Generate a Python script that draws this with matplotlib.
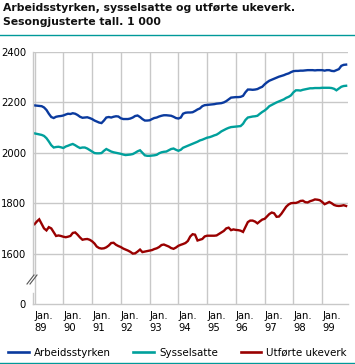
import numpy as np
import pandas as pd
import matplotlib
matplotlib.use("Agg")
import matplotlib.pyplot as plt
from matplotlib.lines import Line2D
import matplotlib.dates as mdates

plt.rcParams['font.family'] = ['DejaVu Sans']

title1 = "Arbeidsstyrken, sysselsatte og utførte ukeverk."
title2 = "Sesongjusterte tall. 1 000"
series_names = ["Arbeidsstyrken", "Sysselsatte", "Utførte ukeverk"]
colors = ["#0a3a9e", "#00a09c", "#990000"]

months = pd.date_range("1989-01-01", periods=131, freq="MS")

arbeidsstyrken = [
    2188, 2187, 2186, 2185, 2180, 2170, 2155, 2142, 2138, 2143, 2145, 2146,
    2148, 2152, 2155, 2154, 2157, 2155, 2150, 2143, 2139, 2140, 2141, 2138,
    2134, 2128, 2124, 2120, 2118, 2128, 2140, 2142, 2140, 2143, 2145, 2144,
    2137, 2134, 2134, 2134, 2136, 2140, 2146, 2148, 2142, 2134, 2128, 2128,
    2129, 2134, 2138, 2140, 2144, 2147, 2149, 2149, 2148, 2147, 2143, 2138,
    2136, 2140, 2155, 2159, 2160, 2160, 2161, 2166, 2172, 2176, 2185, 2189,
    2190, 2191, 2192, 2193, 2195, 2196, 2197, 2200, 2205, 2212, 2219, 2220,
    2221, 2221, 2222, 2226, 2240, 2251, 2251, 2250, 2251, 2253, 2258, 2262,
    2272, 2280, 2286, 2290, 2294, 2298, 2302, 2305, 2308, 2312, 2315, 2320,
    2324, 2325, 2325, 2326, 2326, 2327, 2328, 2328, 2328, 2327, 2328, 2328,
    2328, 2326, 2328, 2328, 2325, 2324, 2328, 2332, 2345, 2349, 2350,
]

sysselsatte = [
    2077, 2075, 2073, 2071, 2067, 2058, 2045, 2030, 2021, 2023, 2024, 2022,
    2019, 2025, 2028, 2032, 2035, 2030, 2024, 2019, 2021, 2021, 2017, 2011,
    2005, 1999, 1998, 1998, 1999, 2008, 2015, 2010, 2005, 2002, 2000, 1998,
    1996, 1993, 1991, 1992, 1993, 1995, 2000, 2006, 2010, 2000, 1990, 1988,
    1988, 1989, 1990, 1992, 1998, 2002, 2004, 2005, 2010, 2015, 2017, 2012,
    2008, 2012, 2020, 2024, 2028, 2032, 2036, 2040, 2044, 2049, 2052, 2056,
    2060, 2062, 2065, 2069, 2072, 2078, 2085, 2090, 2095, 2099, 2102, 2103,
    2104, 2105, 2106, 2115, 2130, 2140, 2142, 2144, 2145, 2147, 2155, 2162,
    2168, 2176, 2185, 2190, 2195, 2200, 2204, 2208, 2212, 2218, 2222, 2228,
    2240, 2248, 2248, 2247, 2250, 2252, 2254, 2256, 2256, 2257, 2257, 2257,
    2258, 2258, 2258, 2258, 2257, 2254, 2248, 2255, 2262, 2265, 2266,
]

utforte_ukeverk = [
    1717, 1728, 1736, 1718, 1700, 1692, 1705, 1700, 1685, 1670, 1672, 1670,
    1667, 1665, 1667, 1670, 1682, 1684, 1675, 1664, 1655, 1657, 1658, 1655,
    1649, 1640, 1628, 1622, 1620, 1621, 1625, 1632, 1642, 1643, 1635, 1630,
    1626, 1620, 1616, 1612, 1607, 1600, 1601, 1608, 1616, 1606, 1608, 1610,
    1612, 1614, 1618, 1621, 1626, 1634, 1636, 1632, 1628, 1622, 1619, 1624,
    1631, 1635, 1638, 1642, 1650, 1668, 1677, 1675, 1652, 1655, 1658, 1668,
    1671, 1671, 1671, 1671, 1672, 1678, 1684, 1690, 1700, 1703, 1693, 1696,
    1694, 1693, 1691, 1686, 1705, 1725, 1731, 1731, 1727, 1720, 1728, 1735,
    1738, 1748, 1757, 1763, 1760, 1746, 1747, 1758, 1772, 1786, 1795, 1800,
    1801, 1801, 1804, 1809, 1810, 1804, 1803, 1808, 1811, 1815, 1814, 1812,
    1805, 1796, 1800, 1805, 1800, 1793, 1790, 1789, 1790, 1792, 1789,
]

year_ticks = pd.date_range("1989-01-01", "1999-01-01", freq="YS")
xtick_labels = ["Jan.\n%02d" % (d.year % 100) for d in year_ticks]
ytick_values = [1400, 1600, 1800, 2000, 2200, 2400]
ytick_labels = ["0", "1600", "1800", "2000", "2200", "2400"]

W, H = 355, 364
fig = plt.figure(figsize=(W / 100, H / 100), dpi=100)
ax = fig.add_axes([33 / W, 1 - 304 / H, (348 - 33) / W, (304 - 52) / H])

for vals, c, n in zip([arbeidsstyrken, sysselsatte, utforte_ukeverk], colors, series_names):
    ax.plot(months, vals, color=c, lw=1.7, solid_joinstyle="miter", label=n)

x0 = mdates.date2num(pd.Timestamp("1989-01-01")) - 20
x1 = mdates.date2num(pd.Timestamp("1999-11-25"))
ax.set_xlim(x0, x1)
ax.set_ylim(1400, 2400)

grid_c = "#c8c8c8"
ax.set_xticks(year_ticks)
ax.set_xticklabels(xtick_labels, ha="left", fontsize=7.2, linespacing=1.25)
ax.set_yticks(ytick_values)
ax.set_yticklabels(ytick_labels, fontsize=7.2)
ax.tick_params(length=0, pad=5)
ax.tick_params(axis="x", pad=5)
for v in ytick_values[1:]:
    ax.axhline(v, color=grid_c, lw=1.0, zorder=0)
for d in year_ticks:
    ax.axvline(d, color=grid_c, lw=1.0, zorder=0)

for s in ["top", "right", "left"]:
    ax.spines[s].set_visible(False)
ax.spines["bottom"].set_color(grid_c)
ax.spines["bottom"].set_linewidth(1.0)

# broken left axis
ax.plot([0, 0], [1400, 1444], transform=ax.get_yaxis_transform(), color=grid_c,
        lw=1.0, clip_on=False)
ax.plot([0, 0], [1516, 2400], transform=ax.get_yaxis_transform(), color=grid_c,
        lw=1.0, clip_on=False)
# break marks
for dx in (0, 3):
    fig.add_artist(Line2D([(27 + dx) / W, (34 + dx) / W],
                          [1 - 284 / H, 1 - 275 / H], color="#555555", lw=0.8))

# title and rules
fig.text(3 / W, 1 - 3 / H, title1, fontsize=7.8, fontweight="bold", va="top", ha="left",
         color="#111111")
fig.text(3 / W, 1 - 17 / H, title2, fontsize=7.8, fontweight="bold", va="top", ha="left",
         color="#111111")
fig.add_artist(Line2D([0, 1], [1 - 35 / H, 1 - 35 / H], color="#009999", lw=1.0))
fig.add_artist(Line2D([0, 1], [1 - 362.5 / H, 1 - 362.5 / H], color="#009999", lw=1.0))

# legend
handles = [Line2D([], [], color=c, lw=1.9) for c in colors]
leg = fig.legend(handles, series_names, loc="center", bbox_to_anchor=(0.5, 1 - 353 / H),
                 ncol=3, frameon=False, fontsize=7.4, handlelength=2.0,
                 handletextpad=0.5, columnspacing=2.2, borderaxespad=0)

fig.savefig("out.png", dpi=100)
